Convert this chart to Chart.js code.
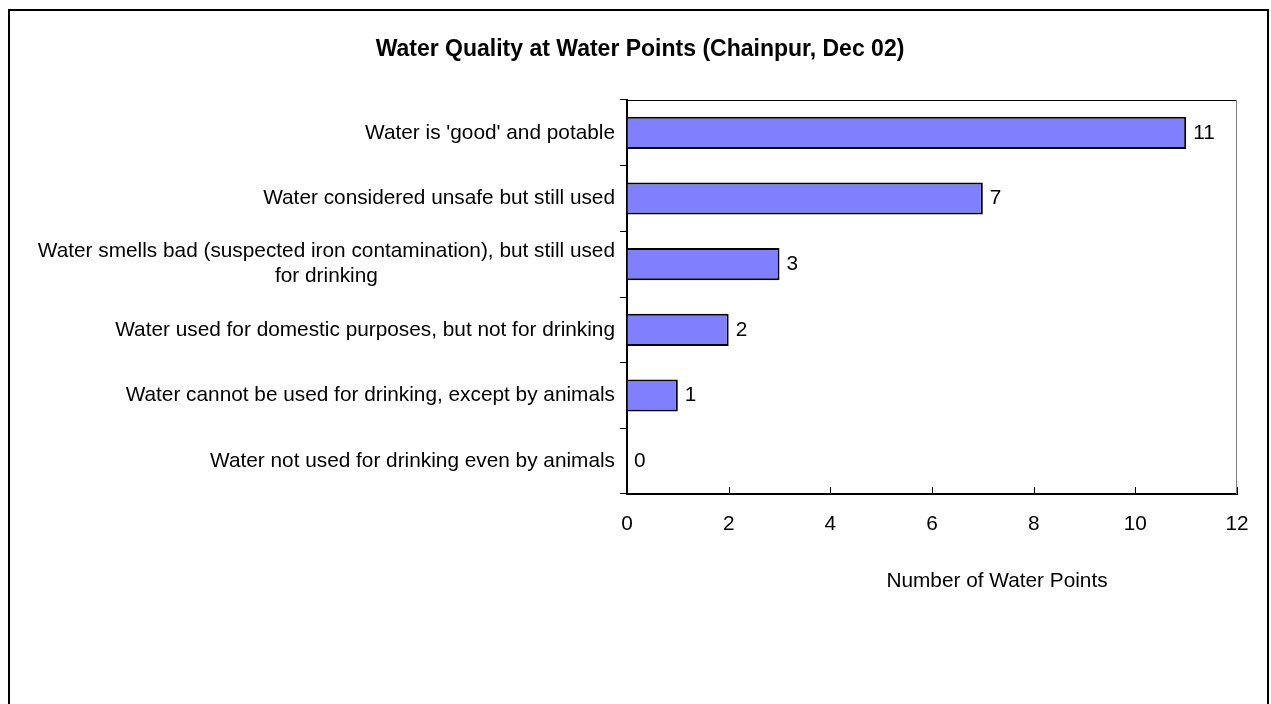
<!DOCTYPE html>
<html>
<head>
<meta charset="utf-8">
<script src="https://cdn.jsdelivr.net/npm/chart.js@4.4.0/dist/chart.umd.min.js"></script>
<style>
  html, body { margin: 0; padding: 0; background: #fff; }
  #wrap { width: 1271px; height: 704px; }
</style>
</head>
<body>
<div id="wrap"><canvas id="chart" width="1271" height="704"></canvas></div>
<script>
// data
const categories = [
  ["Water is 'good' and potable"],
  ["Water considered unsafe but still used"],
  ["Water smells bad (suspected iron contamination), but still used", "for drinking"],
  ["Water used for domestic purposes, but not for drinking"],
  ["Water cannot be used for drinking, except by animals"],
  ["Water not used for drinking even by animals"],
];
const waterPoints = [11, 7, 3, 2, 1, 0];
const xTicks = [0, 2, 4, 6, 8, 10, 12];
const chartTitle = "Water Quality at Water Points (Chainpur, Dec 02)";
const xAxisTitle = "Number of Water Points";

const FONT = "'Liberation Sans', Arial, sans-serif";
const TEXT_SIZE = 20.8;

// Excel-like extras: frame, title, plot box, inner x ticks, centred wrapped labels
const excelLook = {
  id: "excelLook",
  afterDraw(chart) {
    const ctx = chart.ctx;
    const area = chart.chartArea;
    const xs = chart.scales.x;
    const ys = chart.scales.y;
    ctx.save();

    // outer frame
    ctx.strokeStyle = "#000";
    ctx.lineWidth = 2;
    ctx.strokeRect(9, 10, 1259, 760);

    // plot area top (black) and right (grey) edges
    ctx.lineWidth = 1;
    ctx.beginPath();
    ctx.moveTo(area.left, Math.round(area.top) + 0.5);
    ctx.lineTo(area.right, Math.round(area.top) + 0.5);
    ctx.strokeStyle = "#000";
    ctx.stroke();
    ctx.beginPath();
    ctx.moveTo(Math.round(area.right) - 0.5, area.top);
    ctx.lineTo(Math.round(area.right) - 0.5, area.bottom);
    ctx.strokeStyle = "#808080";
    ctx.stroke();

    // x tick marks pointing into the plot
    ctx.strokeStyle = "#000";
    xTicks.forEach((v) => {
      const px = Math.round(xs.getPixelForValue(v)) + 0.5;
      ctx.beginPath();
      ctx.moveTo(px, area.bottom);
      ctx.lineTo(px, area.bottom - 7);
      ctx.stroke();
    });

    // title
    ctx.fillStyle = "#000";
    ctx.textBaseline = "middle";
    ctx.textAlign = "center";
    ctx.font = "bold 23px " + FONT;
    ctx.fillText(chartTitle, 640, 50);

    // x axis title
    ctx.font = TEXT_SIZE + "px " + FONT;
    ctx.fillText(xAxisTitle, 997, 581);

    // category labels, lines centred inside a right-aligned block
    const lh = 25;
    categories.forEach((lines, i) => {
      const y = ys.getPixelForValue(i);
      const blockW = Math.max(...lines.map((l) => ctx.measureText(l).width));
      const cx = area.left - 12 - blockW / 2;
      lines.forEach((line, j) => {
        ctx.fillText(line, cx, y + (j - (lines.length - 1) / 2) * lh);
      });
    });

    // value labels next to bars
    ctx.textAlign = "left";
    const meta = chart.getDatasetMeta(0);
    meta.data.forEach((bar, i) => {
      ctx.fillText(String(waterPoints[i]), bar.x + 7, bar.y);
    });

    ctx.restore();
  },
};

new Chart(document.getElementById("chart"), {
  type: "bar",
  data: {
    labels: categories,
    datasets: [
      {
        data: waterPoints,
        backgroundColor: "#8080FF",
        borderColor: "#000",
        borderWidth: 2,
        borderSkipped: "start",
        barPercentage: 0.49,
        categoryPercentage: 1,
      },
    ],
  },
  options: {
    indexAxis: "y",
    responsive: false,
    animation: false,
    layout: { padding: { top: 100, right: 34, left: 0, bottom: 0 } },
    plugins: {
      legend: { display: false },
      title: { display: false },
      tooltip: { enabled: false },
    },
    scales: {
      x: {
        type: "linear",
        min: 0,
        max: 12,
        afterBuildTicks: (scale) => {
          scale.ticks = xTicks.map((v) => ({ value: v }));
        },
        afterFit: (scale) => {
          scale.height = 210;
        },
        grid: { display: true, drawOnChartArea: false, drawTicks: false },
        border: { display: true, color: "#000", width: 2 },
        ticks: {
          color: "#000",
          padding: 18,
          font: { family: FONT, size: TEXT_SIZE },
        },
      },
      y: {
        type: "category",
        afterFit: (scale) => {
          scale.width = 627;
        },
        grid: {
          display: true,
          drawOnChartArea: false,
          drawTicks: true,
          tickLength: 7,
          offset: true,
          color: "#000",
        },
        border: { display: true, color: "#000", width: 2 },
        ticks: {
          color: "rgba(0,0,0,0)",
          font: { family: FONT, size: TEXT_SIZE },
        },
      },
    },
  },
  plugins: [excelLook],
});
</script>
</body>
</html>
